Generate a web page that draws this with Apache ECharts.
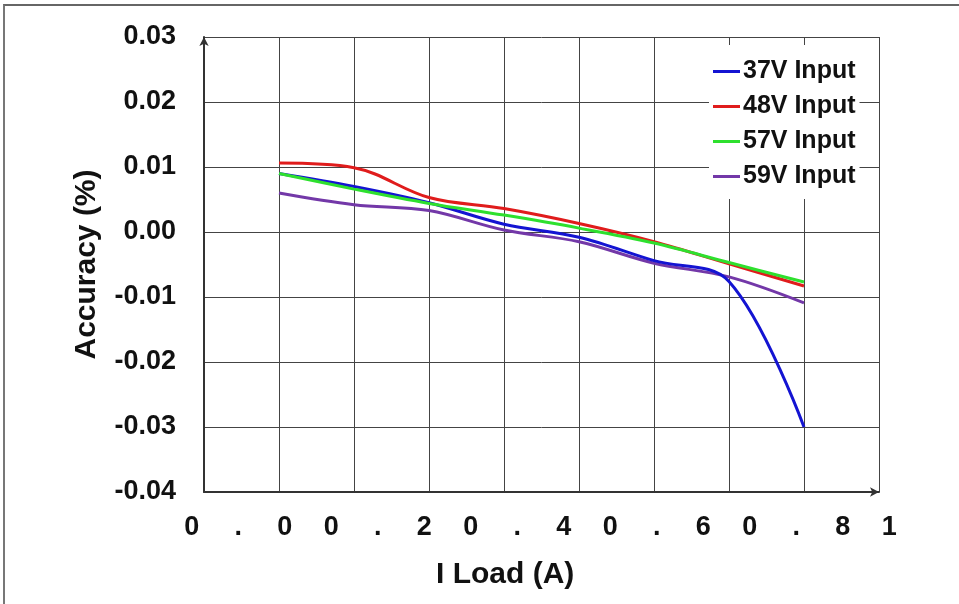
<!DOCTYPE html>
<html>
<head>
<meta charset="utf-8">
<script src="https://cdn.jsdelivr.net/npm/echarts@6/dist/echarts.min.js"></script>
<style>
  html, body { margin: 0; padding: 0; background: #fff; }
  #chart { width: 959px; height: 604px; position: relative; }
  #frame { position: absolute; left: 3px; top: 4px; right: 0; bottom: 0;
           border-top: 2px solid #666; border-left: 2px solid #777; pointer-events: none; }
</style>
</head>
<body>
<div id="chart"></div>
<div id="frame"></div>
<script>
// load steps (grid positions) and accuracy readings (%)
var loadSteps = [1, 2, 3, 4, 5, 6, 7, 8];
var v37 = [0.0090, 0.0070, 0.0045, 0.0012, -0.0008, -0.0044, -0.0076, -0.0300];
var v48 = [0.0106, 0.0099, 0.0053, 0.0036, 0.0013, -0.0015, -0.0049, -0.0083];
var v57 = [0.0090, 0.0066, 0.0044, 0.0026, 0.0006, -0.0017, -0.0047, -0.0077];
var v59 = [0.0060, 0.0042, 0.0033, 0.0003, -0.0015, -0.0048, -0.0069, -0.0109];
var seriesNames = ["37V Input", "48V Input", "57V Input", "59V Input"];
var yTicks = [-0.04, -0.03, -0.02, -0.01, 0.00, 0.01, 0.02, 0.03];
// x tick labels as they appear, one character per slot
var xTickChars = ["0", ".", "0", "0", ".", "2", "0", ".", "4", "0", ".", "6", "0", ".", "8", "1"];

var FONT = 'Arial, "Liberation Sans", sans-serif';
var chart = echarts.init(document.getElementById("chart"));

function pairs(vals) {
  return loadSteps.map(function (x, i) { return [x, vals[i]]; });
}

function line(name, vals, color, z) {
  return {
    name: name,
    type: "line",
    data: pairs(vals),
    smooth: 0.35,
    showSymbol: false,
    z: z,
    lineStyle: { color: color, width: 3 },
    itemStyle: { color: color }
  };
}

var option = {
  animation: false,
  backgroundColor: "#fff",
  title: {
    text: "I Load (A)",
    left: 431,
    top: 555,
    textStyle: { fontFamily: FONT, fontSize: 30, fontWeight: "bold", color: "#111" }
  },
  legend: {
    orient: "vertical",
    left: 709,
    top: 45,
    padding: [14, 4, 10, 4],
    backgroundColor: "#fff",
    icon: "rect",
    itemWidth: 27,
    itemHeight: 3,
    itemGap: 10,
    data: seriesNames,
    textStyle: { fontFamily: FONT, fontSize: 25, fontWeight: "bold", color: "#111", padding: [0, 0, 0, -2] }
  },
  grid: [
    { left: 204, right: 80, top: 37, bottom: 112 },
    { left: 191.7, right: 69.7, top: 37, bottom: 112 }
  ],
  xAxis: [
    {
      type: "value",
      gridIndex: 0,
      min: 0,
      max: 9,
      interval: 1,
      axisLine: { onZero: false, symbol: ["none", "arrow"], symbolSize: [7, 9],
                  lineStyle: { color: "#333", width: 2 } },
      axisTick: { show: false },
      axisLabel: { show: false },
      splitLine: { show: true, lineStyle: { color: "#444", width: 1 } }
    },
    {
      type: "value",
      gridIndex: 1,
      min: 0,
      max: 15,
      interval: 1,
      axisLine: { show: false },
      axisTick: { show: false },
      splitLine: { show: false },
      axisLabel: {
        margin: 22,
        fontFamily: FONT,
        fontSize: 27,
        fontWeight: "bold",
        color: "#111",
        formatter: function (v) { return xTickChars[v] || ""; }
      }
    }
  ],
  yAxis: [
    {
      type: "value",
      gridIndex: 0,
      min: yTicks[0],
      max: yTicks[yTicks.length - 1],
      interval: 0.01,
      name: "Accuracy (%)",
      nameLocation: "middle",
      nameRotate: 90,
      nameGap: 102,
      nameTextStyle: { fontFamily: FONT, fontSize: 30, fontWeight: "bold", color: "#111" },
      axisLine: { show: true, onZero: false, symbol: ["none", "arrow"], symbolSize: [7, 9],
                  lineStyle: { color: "#333", width: 2 } },
      axisTick: { show: false },
      axisLabel: {
        margin: 28,
        fontFamily: FONT,
        fontSize: 27,
        fontWeight: "bold",
        color: "#111",
        formatter: function (v) { return v.toFixed(2); }
      },
      splitLine: { show: true, lineStyle: { color: "#444", width: 1 } }
    },
    { type: "value", gridIndex: 1, min: 0, max: 1, show: false }
  ],
  series: [
    line(seriesNames[3], v59, "#7338a8", 3),
    line(seriesNames[0], v37, "#1414d2", 4),
    line(seriesNames[1], v48, "#e01c1c", 5),
    line(seriesNames[2], v57, "#2ee02e", 6)
  ]
};

chart.setOption(option);
</script>
</body>
</html>
